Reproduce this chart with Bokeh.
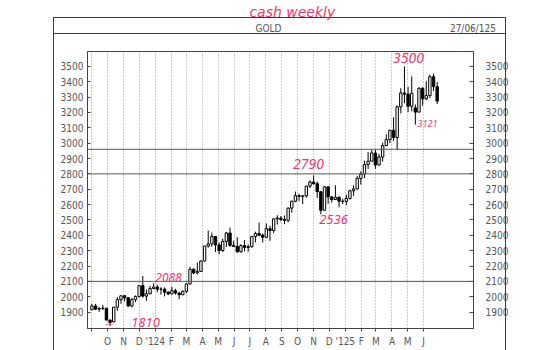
import datetime as dt
from bokeh.plotting import figure
from bokeh.models import Range1d, LinearAxis, FixedTicker, Span, Label, ColumnDataSource
from bokeh.embed import file_html
from bokeh.resources import INLINE

# ---- data (weekly candles, week ending Friday) ----
first_week_end = "2023-09-01"
opens = [1915, 1940, 1919, 1924, 1925, 1848, 1836, 1932, 1981, 2006, 1993, 1940, 1981, 2002, 2072, 2004, 2019, 2053,
         2063, 2049, 2049, 2029, 2018, 2039, 2024, 2013, 2035, 2083, 2179, 2155, 2165, 2233, 2330, 2344, 2392, 2337,
         2301, 2360, 2415, 2334, 2327, 2293, 2333, 2321, 2326, 2392, 2411, 2400, 2387, 2443, 2431, 2507, 2512, 2503,
         2497, 2577, 2622, 2658, 2653, 2657, 2720, 2747, 2736, 2684, 2563, 2715, 2650, 2633, 2648, 2622, 2621, 2640,
         2690, 2702, 2770, 2798, 2861, 2883, 2936, 2858, 2910, 2984, 3023, 3084, 3037, 3237, 3327, 3319, 3240, 3230,
         3202, 3357, 3289, 3310, 3433, 3368]
highs = [1953, 1953, 1932, 1947, 1926, 1850, 1933, 1997, 2009, 2010, 1994, 1993, 2008, 2075, 2135, 2047, 2070, 2088,
         2078, 2062, 2061, 2037, 2065, 2051, 2031, 2041, 2088, 2195, 2185, 2223, 2236, 2331, 2431, 2418, 2392, 2353,
         2378, 2422, 2450, 2364, 2387, 2342, 2369, 2340, 2392, 2424, 2483, 2412, 2477, 2462, 2509, 2531, 2525, 2529,
         2581, 2625, 2685, 2670, 2660, 2723, 2758, 2790, 2750, 2685, 2721, 2721, 2657, 2726, 2653, 2639, 2665, 2697,
         2726, 2786, 2817, 2886, 2942, 2955, 2956, 2930, 3004, 3057, 3087, 3168, 3245, 3358, 3500, 3368, 3435, 3252,
         3366, 3365, 3403, 3446, 3451, 3398]
lows = [1913, 1915, 1901, 1913, 1846, 1810, 1836, 1908, 1954, 1969, 1932, 1931, 1965, 1995, 1994, 1973, 2016, 2053,
        2030, 2013, 2002, 2010, 2017, 2014, 1984, 2010, 2024, 2079, 2146, 2146, 2165, 2229, 2319, 2324, 2291, 2277,
        2291, 2325, 2325, 2323, 2286, 2287, 2295, 2293, 2319, 2353, 2394, 2353, 2382, 2364, 2414, 2470, 2491, 2472,
        2485, 2547, 2615, 2624, 2603, 2645, 2708, 2730, 2643, 2536, 2563, 2605, 2613, 2630, 2583, 2603, 2597, 2633,
        2657, 2698, 2730, 2772, 2832, 2880, 2833, 2853, 2880, 2982, 3000, 3015, 2957, 3194, 3260, 3202, 3207, 3121,
        3204, 3245, 3280, 3294, 3340, 3255]
closes = [1940, 1919, 1924, 1925, 1848, 1832, 1932, 1981, 2006, 1993, 1940, 1981, 2002, 2072, 2004, 2019, 2053, 2063,
          2049, 2049, 2029, 2018, 2039, 2024, 2013, 2035, 2083, 2179, 2155, 2165, 2233, 2330, 2344, 2392, 2337, 2301,
          2360, 2415, 2334, 2327, 2293, 2333, 2321, 2326, 2392, 2411, 2400, 2387, 2443, 2431, 2507, 2512, 2503, 2497,
          2577, 2622, 2658, 2653, 2657, 2720, 2747, 2736, 2684, 2563, 2715, 2650, 2633, 2648, 2622, 2621, 2640, 2690,
          2702, 2770, 2798, 2861, 2883, 2936, 2858, 2910, 2984, 3023, 3084, 3037, 3237, 3327, 3319, 3240, 3325, 3202,
          3357, 3289, 3310, 3433, 3368, 3274]

month_ticks = ["2023-09-01", "2023-10-01", "2023-11-01", "2023-12-01", "2024-01-01", "2024-02-01", "2024-03-01",
               "2024-04-01", "2024-05-01", "2024-06-01", "2024-07-01", "2024-08-01", "2024-09-01", "2024-10-01",
               "2024-11-01", "2024-12-01", "2025-01-01", "2025-02-01", "2025-03-01", "2025-04-01", "2025-05-01",
               "2025-06-01"]
month_labels = ["", "O", "N", "D", "'124", "F", "M", "A", "M", "J", "J", "A", "S", "O", "N", "D", "'125", "F", "M",
                "A", "M", "J"]
y_ticks = list(range(1900, 3501, 100))
ruled_levels = [2960, 2800, 2100]
chart_name = "GOLD"
chart_date = "27/06/125"
handwritten_title = "cash weekly"
handwritten_notes = ["3500", "3121", "2790", "2536", "2088", "1810"]


def day(s):
    return dt.date.fromisoformat(s).toordinal()


x0 = day(first_week_end)
xs = [x0 + 7 * i for i in range(len(closes))]
up = [c >= o for o, c in zip(opens, closes)]
src = ColumnDataSource(dict(
    x=xs, o=opens, h=highs, l=lows, c=closes,
    top=[max(o, c) for o, c in zip(opens, closes)],
    bot=[min(o, c) for o, c in zip(opens, closes)],
    fill=["white" if u else "black" for u in up],
))

W, H = 550, 350
FL, FR, FT, FB = 87, 473, 50, 328
x_start, x_end = day("2023-08-23") + 0.5, day("2025-09-05")
y_start, y_end = 1793, 3597

PINK = "#e8396e"
HFONT = "Noto Sans, sans-serif"
HEADFONT = "DejaVu Sans, sans-serif"
FONT = "Liberation Sans Narrow, DejaVu Sans Condensed, sans-serif"
LBL = "#555555"
FRAME = "#3a3a3a"

p = figure(width=W, height=H, output_backend="svg", toolbar_location=None, title=None,
           x_range=Range1d(x_start, x_end), y_range=Range1d(y_start, y_end),
           min_border_left=FL, min_border_right=W - FR, min_border_top=FT, min_border_bottom=H - FB)
p.background_fill_color = "white"
p.border_fill_color = None
p.outline_line_color = "#444"
p.outline_line_width = 1

# outer page frame and title bar drawn as CSS lines on the figure element
p.styles = {
    "background-color": "white",
    "background-image": ", ".join([f"linear-gradient({FRAME},{FRAME})"] * 4),
    "background-position": "53px 17px, 505px 17px, 53px 17px, 53px 33px",
    "background-size": "1px 340px, 1px 340px, 453px 1px, 453px 1px",
    "background-repeat": "no-repeat",
}

# x axis
mt = [day(s) for s in month_ticks]
p.xaxis.ticker = FixedTicker(ticks=mt)
p.xaxis.major_label_overrides = {t: lab for t, lab in zip(mt, month_labels)}
p.xaxis.major_tick_in = 0
p.xaxis.major_tick_out = 3
p.xaxis.minor_tick_line_color = None
p.xaxis.axis_line_color = "#444"
p.xaxis.major_tick_line_color = "#444"
p.xaxis.major_label_standoff = 4
p.xaxis.major_label_text_font = FONT
p.xaxis.major_label_text_font_size = "10px"
p.xaxis.major_label_text_color = LBL

p.xgrid.ticker = FixedTicker(ticks=mt)
p.xgrid.grid_line_color = "#9a9a9a"
p.xgrid.grid_line_dash = "1 2"
p.xgrid.grid_line_width = 1
p.ygrid.visible = False

# y axes
p.yaxis.ticker = FixedTicker(ticks=y_ticks)
p.yaxis.major_tick_in = 3
p.yaxis.major_tick_out = 0
p.yaxis.minor_tick_line_color = None
p.yaxis.axis_line_color = "#444"
p.yaxis.major_tick_line_color = "#444"
p.yaxis.major_label_standoff = 4
p.yaxis.major_label_text_font = FONT
p.yaxis.major_label_text_font_size = "10px"
p.yaxis.major_label_text_color = LBL

ry = LinearAxis(ticker=FixedTicker(ticks=y_ticks), major_tick_in=4, major_tick_out=0,
                minor_tick_line_color=None, axis_line_color="#444", major_tick_line_color="#444",
                major_label_standoff=12, major_label_text_font=FONT, major_label_text_font_size="10px",
                major_label_text_color=LBL)
p.add_layout(ry, "right")


# helpers for placing decorations by pixel position
def dx(px):
    return x_start + (px - FL) / (FR - FL) * (x_end - x_start)


def dy(py):
    return y_end - (py - FT) / (FB - FT) * (y_end - y_start)


# header texts (instrument name and date) carried by a top axis
gx = round(dx(268))
tx = round(dx(472.5))
top_ax = LinearAxis(ticker=FixedTicker(ticks=[gx, tx]), major_label_overrides={gx: chart_name, tx: chart_date},
                    axis_line_color=None, major_tick_line_color=None, minor_tick_line_color=None,
                    major_tick_in=0, major_tick_out=0, minor_tick_in=0, minor_tick_out=0,
                    major_label_standoff=18,
                    major_label_text_font=FONT, major_label_text_font_size="10px", major_label_text_color=LBL)
p.add_layout(top_ax, "above")

# handwritten heading carried by an outer top axis
cx = round(dx(292))
head_ax = LinearAxis(ticker=FixedTicker(ticks=[cx]), major_label_overrides={cx: handwritten_title},
                     axis_line_color=None, major_tick_line_color=None, minor_tick_line_color=None,
                     major_tick_in=0, major_tick_out=0, minor_tick_in=0, minor_tick_out=0,
                     major_label_standoff=0,
                     major_label_text_font=HEADFONT, major_label_text_font_style="italic",
                     major_label_text_font_size="14px", major_label_text_color=PINK)
p.add_layout(head_ax, "above")

# ruled horizontal lines
for lv in ruled_levels:
    p.add_layout(Span(location=lv, dimension="width", line_color="#555", line_width=1))

# candles
p.segment(x0="x", y0="h", x1="x", y1="l", source=src, line_color="black", line_width=1)
p.vbar(x="x", width=4.6, top="top", bottom="bot", source=src, fill_color="fill", line_color="black",
       line_width=1)

# handwritten notes
note_pos = [(408, 57, 14), (427, 122, 9), (308, 163, 14), (333, 219, 13), (168, 277, 12), (145, 322, 13)]
for t, (px, py, fs) in zip(handwritten_notes, note_pos):
    p.add_layout(Label(x=dx(px), y=dy(py), text=t, text_align="center", text_baseline="middle",
                       text_font=HFONT, text_font_style="italic", text_font_size=f"{fs}px", text_color=PINK))
p.add_layout(Label(x=dx(109), y=dy(323), text="—", text_align="center", text_baseline="middle",
                   text_font=HFONT, text_font_size="9px", text_color=PINK))

open("out.html", "w").write(file_html(p, INLINE))
